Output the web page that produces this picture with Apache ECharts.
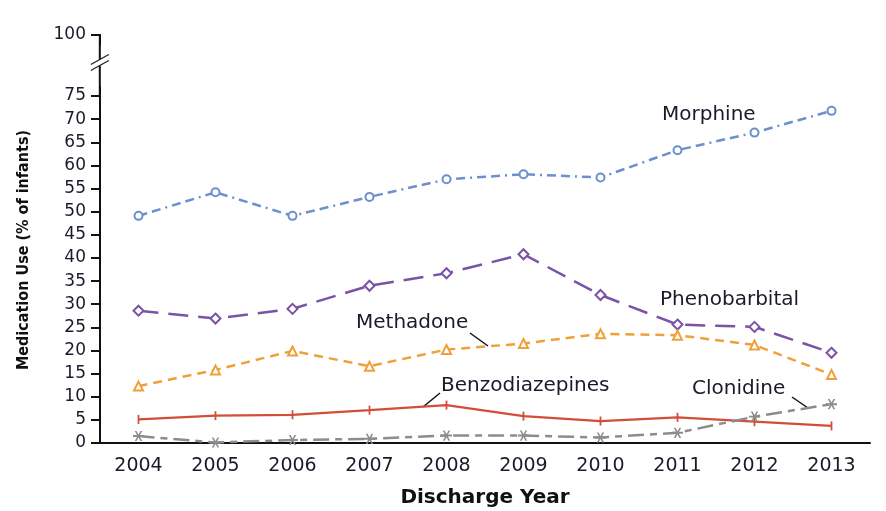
<!DOCTYPE html>
<html>
<head>
<meta charset="utf-8">
<script src="https://cdn.jsdelivr.net/npm/echarts@6.0.0/dist/echarts.min.js"></script>
<style>
html,body{margin:0;padding:0;background:#fff;}
#chart{width:886px;height:511px;}
</style>
</head>
<body>
<div id="chart"></div>
<script>
const years = ['2004','2005','2006','2007','2008','2009','2010','2011','2012','2013'];
const yTicks = [0,5,10,15,20,25,30,35,40,45,50,55,60,65,70,75,100];
const morphine = [49.1,54.2,49.1,53.2,57.0,58.1,57.4,63.3,67.1,71.8];
const phenobarbital = [28.6,26.9,29.0,34.0,36.7,40.8,32.0,25.6,25.1,19.5];
const methadone = [12.3,15.8,19.9,16.6,20.2,21.5,23.6,23.3,21.2,14.8];
const benzodiazepines = [5.1,5.9,6.1,7.1,8.2,5.8,4.75,5.55,4.6,3.7];
const clonidine = [1.5,0.1,0.65,0.9,1.6,1.6,1.2,2.2,5.7,8.4];

const chart = echarts.init(document.getElementById('chart'), null, {renderer:'canvas'});
const tickFont = "'DejaVu Sans', sans-serif";
const asterisk = 'path://M-5,-0.9L5,-0.9L5,0.9L-5,0.9Z M-3.4,-4.6L-1.8,-4.6L3.4,4.6L1.8,4.6Z M1.8,-4.6L3.4,-4.6L-1.8,4.6L-3.4,4.6Z';

function ser(name, data, color, dash, width, symbol, size, bw){
  return {
    name, type:'line', data, symbol, symbolSize:size, showSymbol:true,
    lineStyle:{color, width, type:dash},
    itemStyle:{color, borderColor:color, borderWidth:bw},
    symbolKeepAspect:true,
    z: 3, animation:false
  };
}

chart.setOption({
  animation:false,
  grid:{left:100, right:16, top:35, bottom:68, containLabel:false, outerBoundsMode:'none'},
  xAxis:{
    type:'category', data:years, boundaryGap:true,
    axisLine:{lineStyle:{color:'#111', width:2}},
    axisTick:{alignWithLabel:true, length:8, lineStyle:{color:'#111', width:2}},
    axisLabel:{fontFamily:tickFont, fontSize:19, color:'#1a1a2a', margin:14},
    name:'Discharge Year', nameLocation:'middle', nameGap:45,
    nameTextStyle:{fontFamily:"'DejaVu Sans', sans-serif", fontWeight:'bold', fontSize:20, color:'#111'},
    splitLine:{show:false}
  },
  yAxis:{
    type:'value', min:0, max:100, interval:5,
    breaks:[{start:77, end:98, gap:9.2}],
    breakArea:{show:false},
    axisLine:{show:true, lineStyle:{color:'#111', width:2}},
    axisTick:{show:true, length:9, lineStyle:{color:'#111', width:2}, customValues: yTicks},
    axisLabel:{fontFamily:tickFont, fontSize:17, color:'#1a1a2a', margin:14,
      customValues: yTicks},
    splitLine:{show:false}
  },
  series:[
    ser('Morphine', morphine, '#6d8fcd', [9,5,9,5,2,5], 2.5, 'emptyCircle', 8, 1.6),
    ser('Phenobarbital', phenobarbital, '#7a52a6', [20,10], 2.5, 'emptyDiamond', 10, 1.6),
    ser('Methadone', methadone, '#f0a03a', [9,6], 2.5, 'emptyTriangle', 9, 1.6),
    ser('Benzodiazepines', benzodiazepines, '#d24e38', 'solid', 2.2, 'rect', [1.8,9], 0),
    ser('Clonidine', clonidine, '#8c8c8c', [16,6,7,6], 2.5, asterisk, 11, 0)
  ]
});

// annotations
const yTop = chart.convertToPixel({yAxisIndex:0}, 100);
const y75 = chart.convertToPixel({yAxisIndex:0}, 75);
const yMid = (yTop + y75) / 2 - 3;
const ax = chart.convertToPixel({xAxisIndex:0}, '2004') - 38.7;
const txt = (text, x, y) => ({type:'text', x, y, style:{text, font:"20px 'DejaVu Sans', sans-serif", fill:'#1a1a2a', textAlign:'left', textVerticalAlign:'middle'}});
const ln = (x1,y1,x2,y2) => ({type:'line', shape:{x1,y1,x2,y2}, style:{stroke:'#111', lineWidth:1.5}});
chart.setOption({
  graphic:[
    {type:'line', shape:{x1:ax, y1:yTop-1, x2:ax, y2:y75+1}, style:{stroke:'#111', lineWidth:2}, z:99},
    {type:'rect', shape:{x:ax-4, y:yMid-3, width:8, height:6}, style:{fill:'#fff'}, z:100},
    {type:'line', shape:{x1:ax-9, y1:yMid+2, x2:ax+9, y2:yMid-8}, style:{stroke:'#222', lineWidth:1.3}, z:101},
    {type:'line', shape:{x1:ax-9, y1:yMid+8, x2:ax+9, y2:yMid-2}, style:{stroke:'#222', lineWidth:1.3}, z:101},
    {type:'text', x:24, y:250, rotation:Math.PI/2, style:{text:'Medication Use (% of infants)', font:"bold 16px 'Liberation Sans Narrow', 'DejaVu Sans Condensed', sans-serif", fill:'#111', textAlign:'center', textVerticalAlign:'middle'}},
    txt('Morphine', 662, 115),
    txt('Phenobarbital', 660, 300),
    txt('Methadone', 356, 323),
    txt('Benzodiazepines', 441, 386),
    txt('Clonidine', 692, 389),
    ln(470,333,488,346),
    ln(423,407,440,393),
    ln(792,397,808,408)
  ]
});
</script>
</body>
</html>
